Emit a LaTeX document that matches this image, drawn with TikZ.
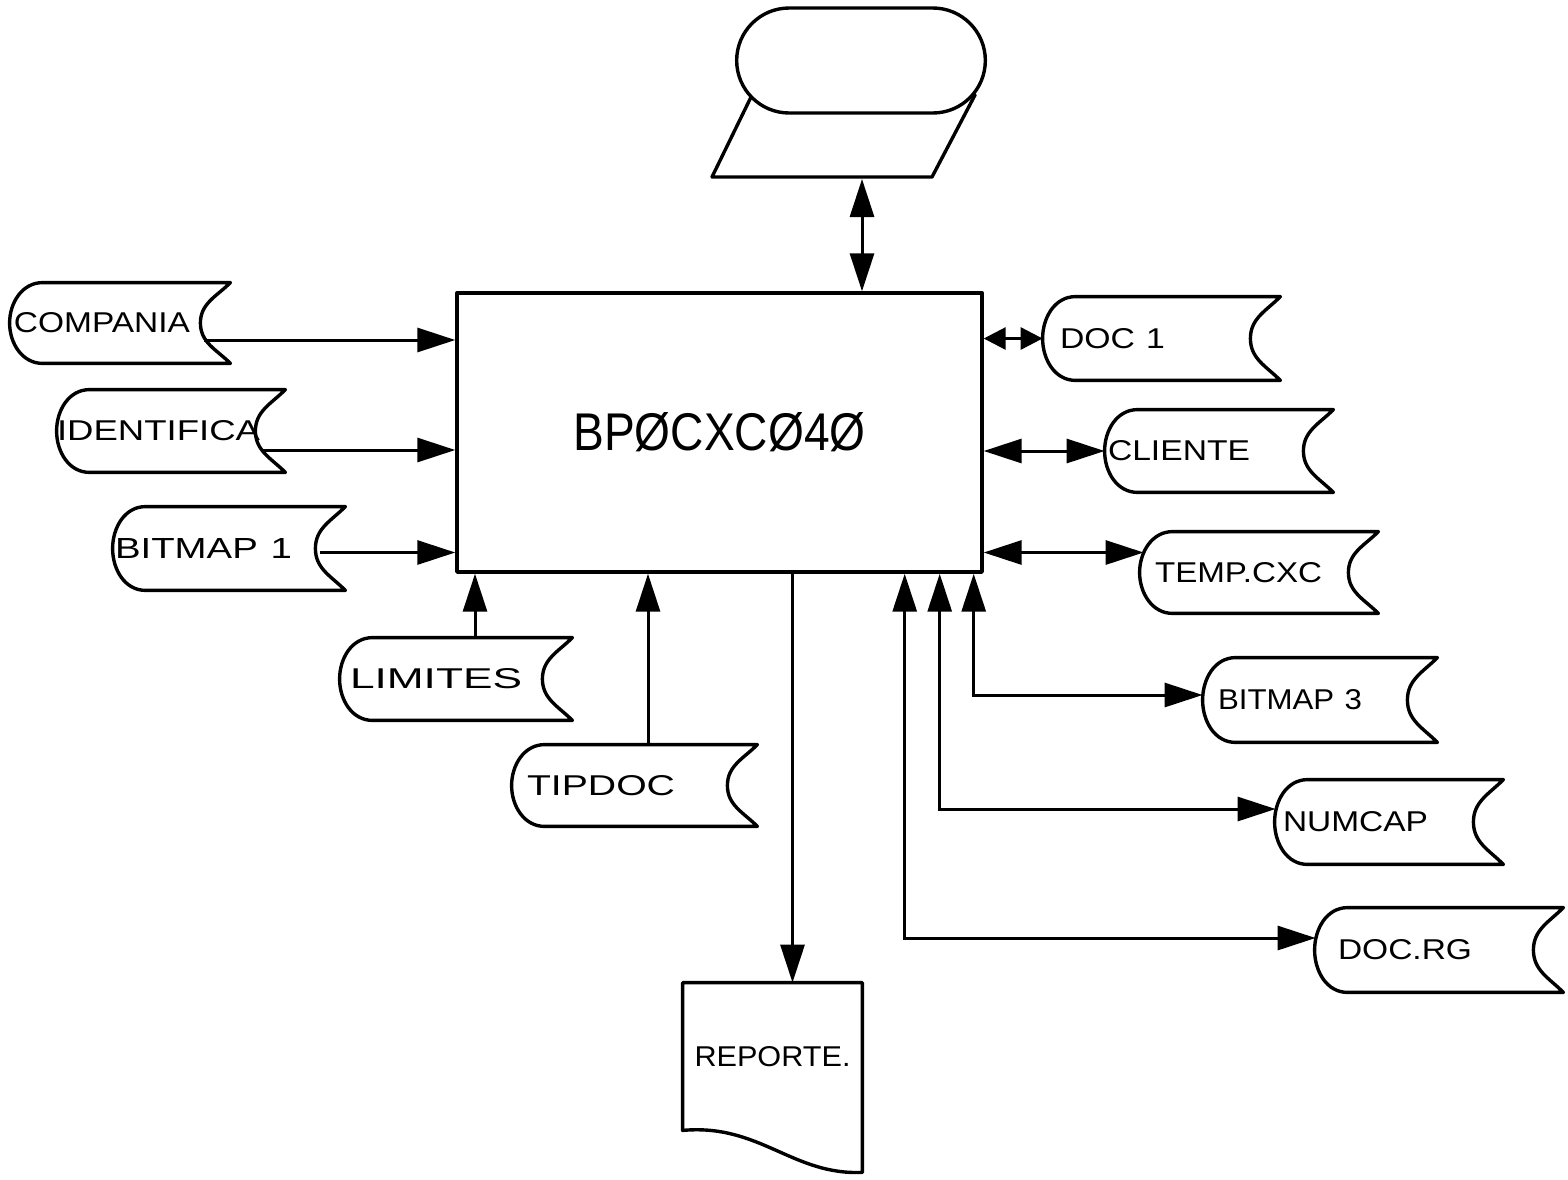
\documentclass[tikz,border=0pt]{standalone}
\usepackage{graphicx}
\usepackage{fontspec}
\setmainfont{Liberation Sans}
\usetikzlibrary{arrows.meta,shapes.misc}
\newcommand\storenode[8]{% name, bulge x, top y, W, H, text offset, label width (px), text
  \pgfmathsetmacro\scx{#2+#4/2}\pgfmathsetmacro\scy{-(#3+#5/2)}%
  \pgfmathsetmacro\swpt{#4*0.5}\pgfmathsetmacro\shpt{#5*0.5}%
  \pgfmathsetmacro\stwpt{(#4-2*#6)*0.5}\pgfmathsetmacro\sofpt{#6*0.5}%
  \pgfmathsetmacro\slwpt{#7*0.5}%
  \node[inner xsep=\sofpt pt, inner ysep=0pt, minimum width=\swpt pt, minimum height=\shpt pt,
        text width=\stwpt pt, align=left] (#1) at (\scx,\scy) {\resizebox{\slwpt pt}{10pt}{#8}};
  \draw[shp] ([xshift=16.5pt]#1.north west) -- (#1.north east)
     to[out=225,in=90] ([xshift=-15pt]#1.east) to[out=-90,in=135] (#1.south east)
     -- ([xshift=16.5pt]#1.south west) to[out=180,in=-90] (#1.west)
     to[out=90,in=180] ([xshift=16.5pt]#1.north west);
}
\begin{document}
\begin{tikzpicture}[x=0.5pt,y=0.5pt,
  shp/.style={line width=1.7pt, line join=round, line cap=round},
  con/.style={line width=1.5pt},
  >={Triangle[length=19pt,width=12pt]},
  smalltip/.style={>={Triangle[length=11pt,width=11pt]}}]
\useasboundingbox (0,0) rectangle (1568,-1179);

% top terminal + parallelogram
\draw[shp] (752,-95) -- (712,-177) -- (932,-177) -- (975,-95) -- cycle;
\node[draw, shp, fill=white, rounded rectangle, minimum width=131pt, minimum height=52.5pt] (term) at (861,-60.5) {};
\coordinate (disp) at (862,-179);

% main process box
\node[draw, shp, minimum width=262.5pt, minimum height=139.5pt, inner sep=0pt] (box) at (719.5,-432.5)
  {\resizebox{146pt}{19pt}{BPØCXCØ4Ø}};

% storages, left
\storenode{comp}{10}{283}{220}{80}{4}{176}{COMPANIA}
\storenode{ident}{57}{390}{228}{82}{0}{203}{IDENTIFICA}
\storenode{bmpa}{113}{507}{232}{83}{2}{177}{BITMAP 1}
\storenode{lim}{340}{638}{232}{82}{10}{172}{LIMITES}
\storenode{tip}{512}{745}{245}{81}{15}{148}{TIPDOC}
% storages, right
\storenode{doca}{1043}{297}{237}{83}{17}{105}{DOC 1}
\storenode{cli}{1105}{410}{228}{82}{3}{142}{CLIENTE}
\storenode{temp}{1140}{532}{238}{81}{15}{167}{TEMP.CXC}
\storenode{bmpc}{1203}{658}{234}{84}{15}{144}{BITMAP 3}
\storenode{num}{1275}{780}{228}{84}{8}{145}{NUMCAP}
\storenode{docrg}{1315}{908}{248}{84}{23}{134}{DOC.RG}

% report document
\node[minimum width=89.5pt, minimum height=73.5pt, inner sep=0pt] (rep) at (772.5,-1056.5)
  {\resizebox{78pt}{10pt}{REPORTE.}};
\draw[shp] ([yshift=-21pt]rep.south east) -- (rep.north east) -- (rep.north west) -- (rep.south west)
  .. controls +(38.5pt,3.5pt) and +(-35pt,-1.5pt) .. ([yshift=-21pt]rep.south east);

% connectors
\draw[con,<->] (disp) -- (disp |- box.north);

\coordinate (a1) at ([shift={(-26,-17)}]comp.east);
\draw[con,->] (a1) -- (a1 -| box.west);
\coordinate (a2) at ([shift={(-23,-19)}]ident.east);
\draw[con,->] (a2) -- (a2 -| box.west);
\coordinate (a3) at ([shift={(-25,-4)}]bmpa.east);
\draw[con,->] (a3) -- (a3 -| box.west);
\coordinate (a4) at ([xshift=9.5pt]lim.north);
\draw[con,->] (a4) -- (a4 |- box.south);
\coordinate (a5) at ([xshift=6.75pt]tip.north);
\draw[con,->] (a5) -- (a5 |- box.south);
\coordinate (a6) at ([xshift=10pt]rep.north);
\draw[con,->] (a6 |- box.south) -- (a6);

\draw[con,<->,smalltip] (box.east |- doca.west) -- (doca.west);
\draw[con,<->] (box.east |- cli.west) -- (cli.west);
\coordinate (b3) at ([shift={(4,20)}]temp.west);
\draw[con,<->] (b3 -| box.east) -- (b3);
\draw[con,<->] ([xshift=-5pt]box.south east) |- ([yshift=2.5pt]bmpc.west);
\draw[con,<->] ([xshift=-22pt]box.south east) |- ([shift={(1,13)}]num.west);
\draw[con,<->] ([xshift=-39.5pt]box.south east) |- ([shift={(1,12)}]docrg.west);
\end{tikzpicture}
\end{document}
